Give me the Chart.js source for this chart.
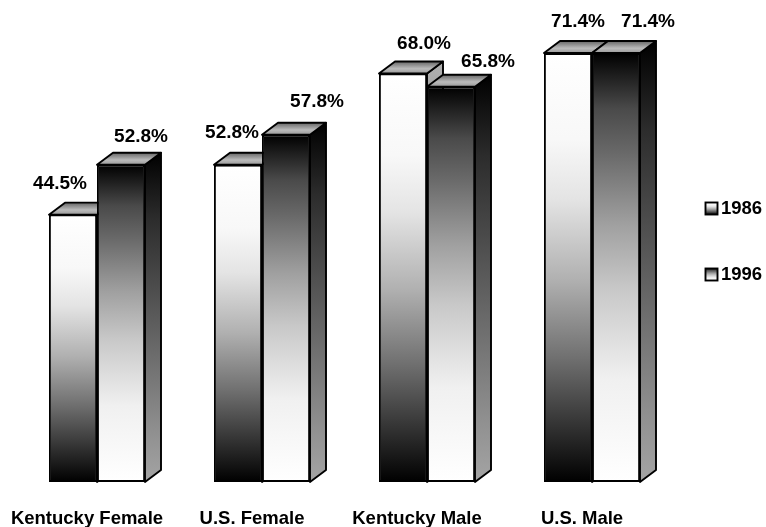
<!DOCTYPE html>
<html>
<head>
<meta charset="utf-8">
<script src="https://cdn.jsdelivr.net/npm/chart.js@4/dist/chart.umd.min.js"></script>
<style>
  html, body { margin: 0; padding: 0; background: #fff; }
  #wrap { width: 766px; height: 527px; }
</style>
</head>
<body>
<div id="wrap"><canvas id="chart"></canvas></div>
<script>
const categories = ["Kentucky Female", "U.S. Female", "Kentucky Male", "U.S. Male"];
const years = ["1986", "1996"];
const values1986 = [44.5, 52.8, 68.0, 71.4];
const values1996 = [52.8, 57.8, 65.8, 71.4];

// the original's value labels sit unevenly, these nudge them off their bars
const labelNudge1986 = [[-13, -31], [-6, -32], [21, -30], [10, -31]];
const labelNudge1996 = [[20, -28], [31, -33], [37, -25], [32, -31]];

const FAMILY = '"Liberation Sans", Arial, sans-serif';
const DEPTH_X = 16, DEPTH_Y = 12;
const EDGE = 1.9;

const fadeDown = [[0, "#ffffff"], [0.2, "#f8f8f8"], [0.34, "#e4e4e4"], [0.53, "#b0b0b0"], [0.71, "#707070"], [0.835, "#404040"], [1, "#000000"]];
const fadeUp = [[0, "#000000"], [0.13, "#4a4a4a"], [0.23, "#686868"], [0.4, "#a0a0a0"], [0.55, "#c8c8c8"], [0.76, "#f0f0f0"], [1, "#ffffff"]];
const sideDark = [[0, "#000000"], [0.2, "#2c2c2c"], [0.6, "#6a6a6a"], [0.85, "#909090"], [1, "#a4a4a4"]];
const sideLight = [[0, "#b0b0b0"], [0.5, "#666666"], [1, "#000000"]];
const topFace = [[0, "#666666"], [0.6, "#bbbbbb"], [1, "#999999"]];

function gradient(ctx, x0, y0, x1, y1, stops) {
  const g = ctx.createLinearGradient(x0, y0, x1, y1);
  stops.forEach(s => g.addColorStop(s[0], s[1]));
  return g;
}

function barFill(stops) {
  return (c) => {
    if (!c.chart.chartArea) return "#888";
    const base = c.chart.scales.y.getPixelForValue(0);
    const top = c.chart.scales.y.getPixelForValue(c.dataset.data[c.dataIndex]);
    return gradient(c.chart.ctx, 0, top, 0, base, stops);
  };
}

function face(ctx, pts, fill) {
  ctx.beginPath();
  pts.forEach((p, i) => i ? ctx.lineTo(p[0], p[1]) : ctx.moveTo(p[0], p[1]));
  ctx.closePath();
  ctx.fillStyle = fill;
  ctx.fill();
  ctx.stroke();
}

const depthFaces = {
  id: "depthFaces",
  beforeDatasetsDraw(chart) {
    const ctx = chart.ctx;
    ctx.save();
    ctx.strokeStyle = "#000";
    ctx.lineWidth = EDGE;
    ctx.lineJoin = "round";
    [0, 1].forEach(d => {
      chart.getDatasetMeta(d).data.forEach(b => {
        const l = b.x - b.width / 2, r = b.x + b.width / 2, t = b.y, bot = b.base;
        face(ctx, [[r, t], [r + DEPTH_X, t - DEPTH_Y], [r + DEPTH_X, bot - DEPTH_Y], [r, bot]],
          gradient(ctx, 0, t - DEPTH_Y, 0, bot, d ? sideDark : sideLight));
        face(ctx, [[l, t], [l + DEPTH_X, t - DEPTH_Y], [r + DEPTH_X, t - DEPTH_Y], [r, t]],
          gradient(ctx, 0, t - DEPTH_Y, 0, t, topFace));
      });
    });
    ctx.restore();
  }
};

const textLayer = {
  id: "textLayer",
  afterDraw(chart) {
    const ctx = chart.ctx;
    ctx.save();
    ctx.font = "bold 19px " + FAMILY;
    ctx.fillStyle = "#000";
    ctx.textAlign = "center";
    ctx.textBaseline = "middle";
    [labelNudge1986, labelNudge1996].forEach((nudge, d) => {
      const ds = chart.data.datasets[d];
      chart.getDatasetMeta(d).data.forEach((b, i) => {
        ctx.fillText(ds.data[i].toFixed(1) + "%", b.x + nudge[i][0], b.y + nudge[i][1]);
      });
    });
    // legend, stacked far apart on the right
    ctx.font = "bold 18.5px " + FAMILY;
    ctx.textAlign = "left";
    years.forEach((y, i) => {
      const top = 202.5 + i * 66;
      ctx.fillStyle = gradient(ctx, 0, top, 0, top + 12, i ? fadeUp : fadeDown);
      ctx.strokeStyle = "#000";
      ctx.lineWidth = EDGE;
      ctx.fillRect(705.5, top, 12, 12);
      ctx.strokeRect(705.5, top, 12, 12);
      ctx.fillStyle = "#000";
      ctx.fillText(y, 721, top + 6);
    });
    ctx.restore();
  }
};

new Chart(document.getElementById("chart"), {
  type: "bar",
  data: {
    labels: categories,
    datasets: [
      { label: years[0], data: values1986, backgroundColor: barFill(fadeDown), borderColor: "#000", borderWidth: EDGE, borderSkipped: false },
      { label: years[1], data: values1996, backgroundColor: barFill(fadeUp), borderColor: "#000", borderWidth: EDGE, borderSkipped: false }
    ]
  },
  options: {
    responsive: true,
    maintainAspectRatio: false,
    animation: false,
    layout: { padding: { left: 14.5, right: 91.5, top: 1.4, bottom: 0 } },
    categoryPercentage: 96 / 165,
    barPercentage: 1,
    plugins: { legend: { display: false }, tooltip: { enabled: false } },
    scales: {
      x: {
        afterFit(s) { s.height = 45; s.paddingLeft = 0; s.paddingRight = 0; },
        border: { display: false },
        grid: { display: false },
        ticks: {
          color: "#000",
          font: { family: FAMILY, size: 18.5, weight: "bold" },
          padding: 18,
          labelOffset: -10,
          autoSkip: false,
          maxRotation: 0
        }
      },
      y: { display: false, min: 0, max: 80 }
    }
  },
  plugins: [depthFaces, textLayer]
});
</script>
</body>
</html>
